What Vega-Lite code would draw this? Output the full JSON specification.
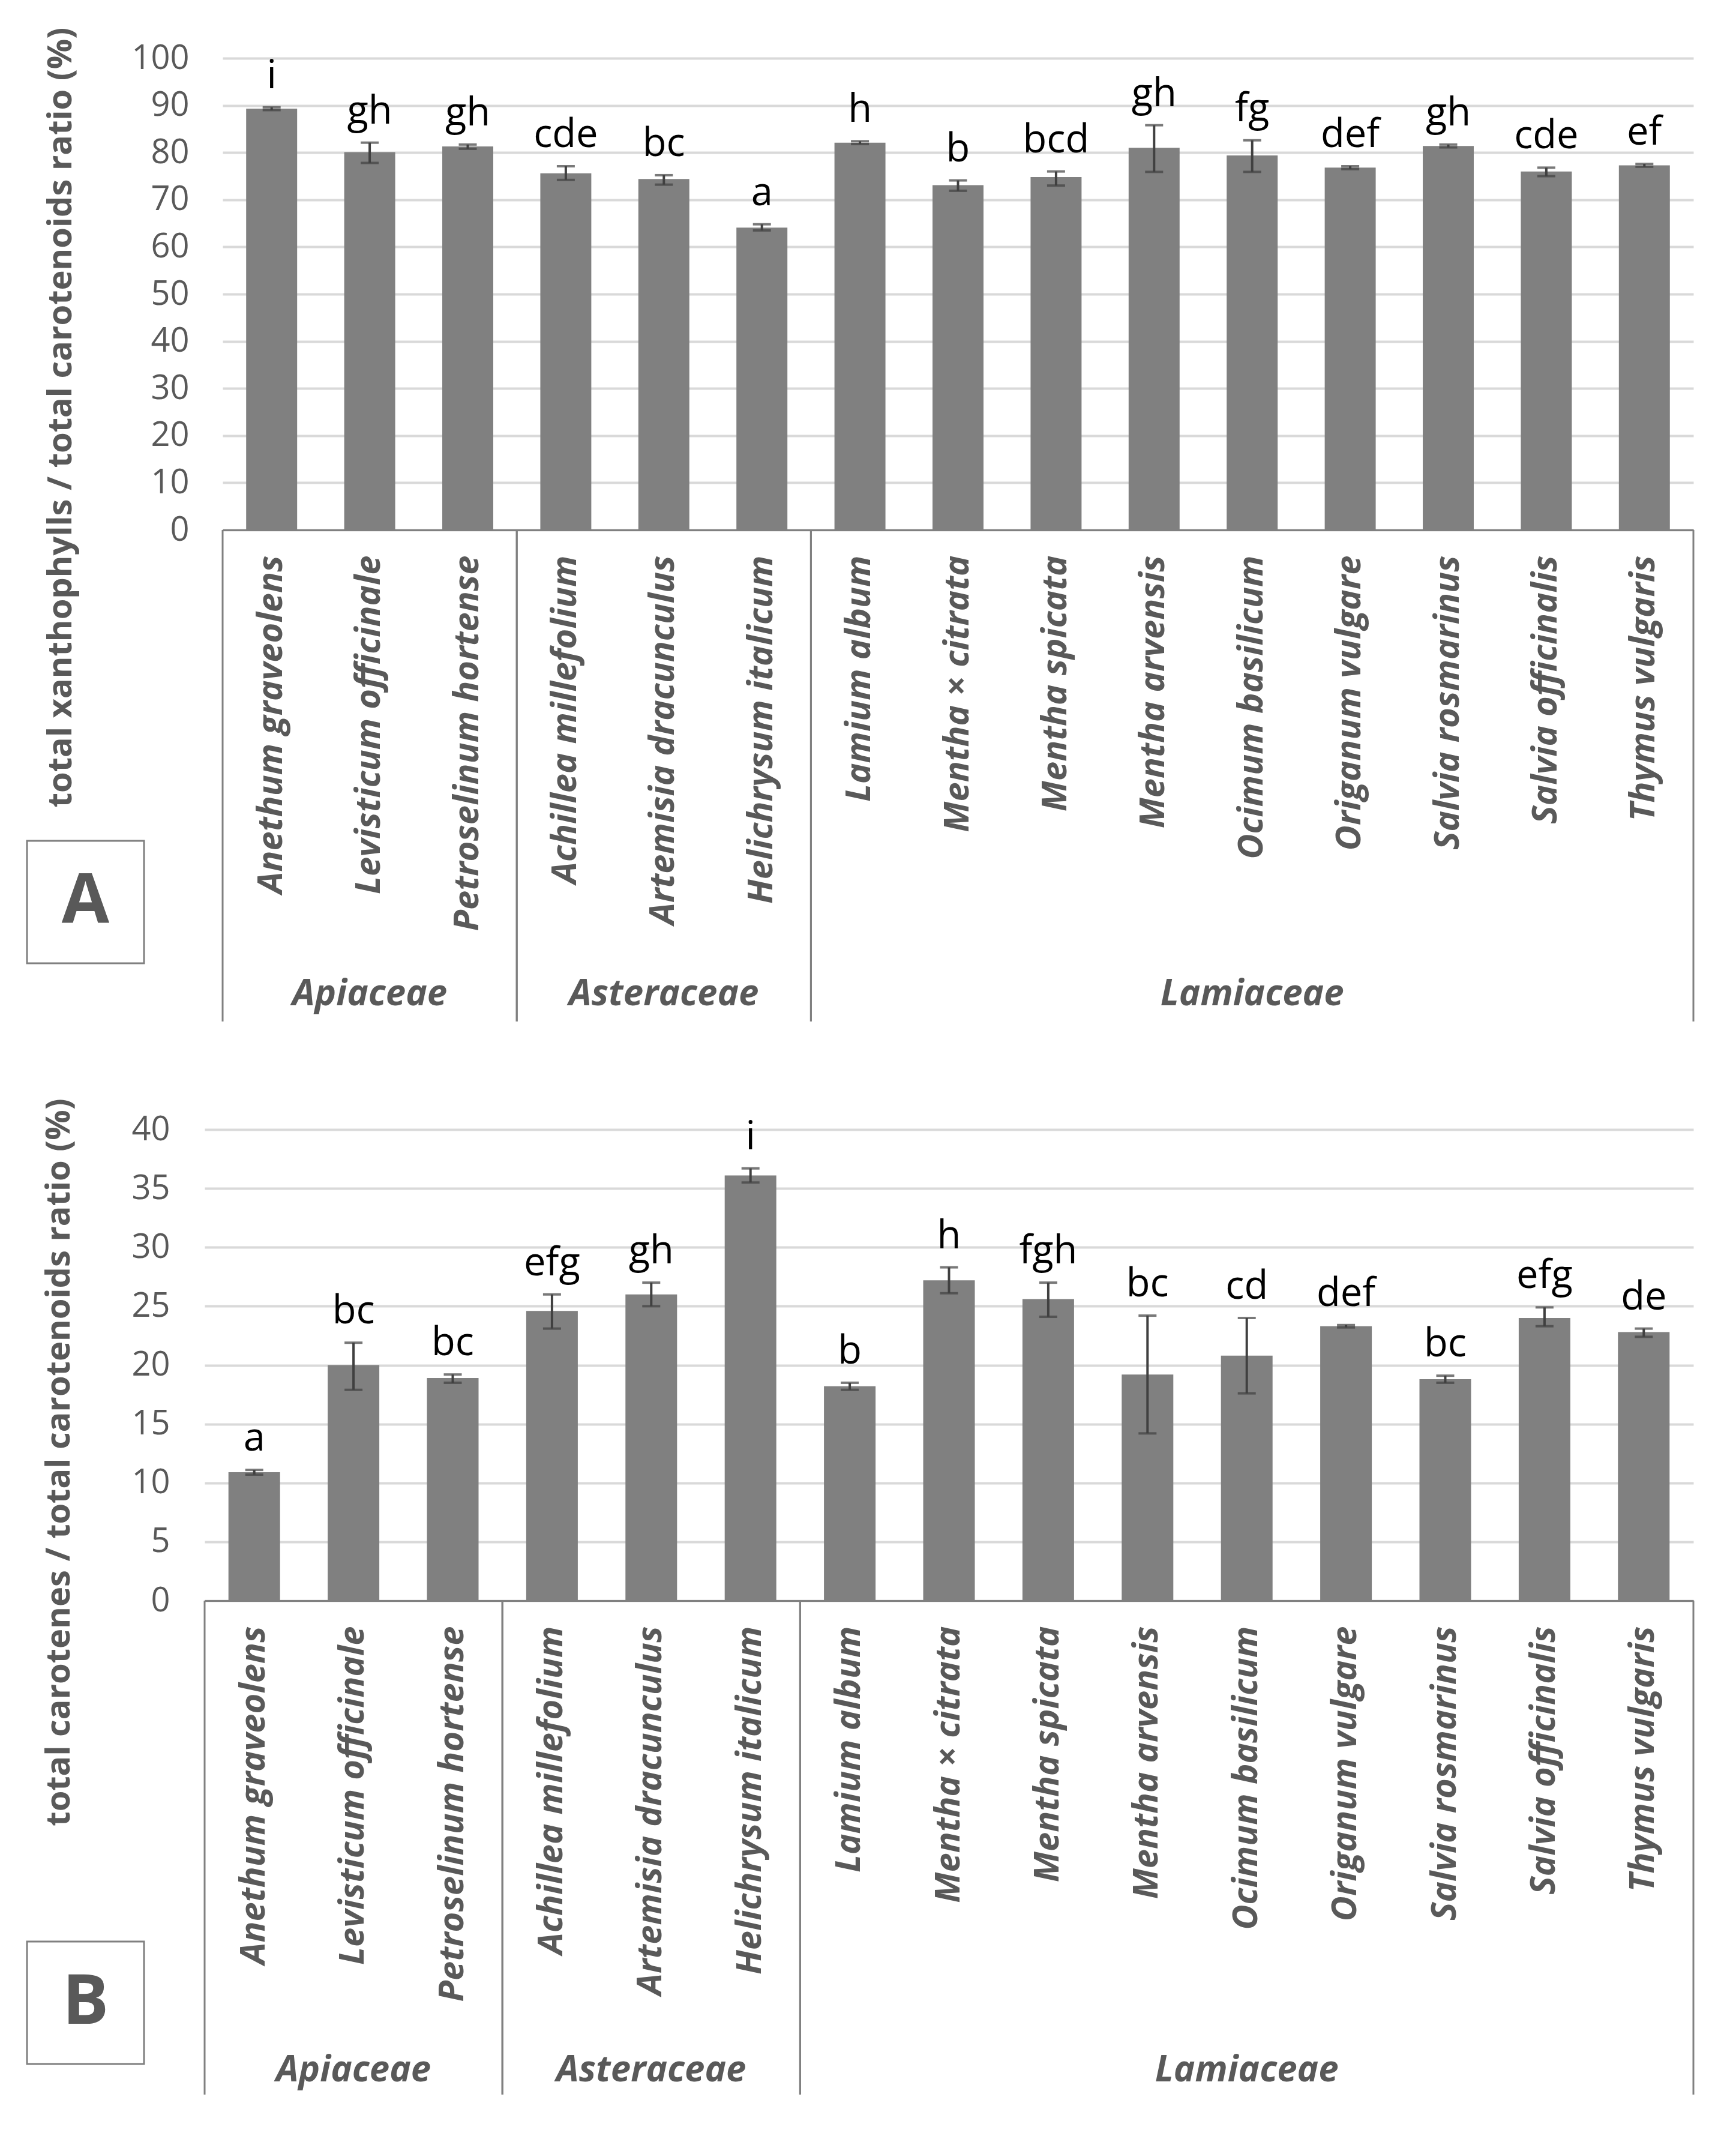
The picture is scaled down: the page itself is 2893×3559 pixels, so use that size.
{
  "$schema": "https://vega.github.io/schema/vega-lite/v6.json",
  "background": "white",
  "padding": {"left": 43, "top": 45, "right": 10, "bottom": 10},
  "config": {"view": {"stroke": null}, "font": "Open Sans"},
  "datasets": {
    "A": [
      {"family": "Apiaceae", "species": "Anethum graveolens", "mean": 89.3, "lo": 89.0, "hi": 89.6, "letter": "i"},
      {"family": "Apiaceae", "species": "Levisticum officinale", "mean": 80.1, "lo": 77.8, "hi": 82.1, "letter": "gh"},
      {"family": "Apiaceae", "species": "Petroselinum hortense", "mean": 81.3, "lo": 80.8, "hi": 81.7, "letter": "gh"},
      {"family": "Asteraceae", "species": "Achillea millefolium", "mean": 75.6, "lo": 74.2, "hi": 77.1, "letter": "cde"},
      {"family": "Asteraceae", "species": "Artemisia dracunculus", "mean": 74.4, "lo": 73.2, "hi": 75.2, "letter": "bc"},
      {"family": "Asteraceae", "species": "Helichrysum italicum", "mean": 64.1, "lo": 63.5, "hi": 64.8, "letter": "a"},
      {"family": "Lamiaceae", "species": "Lamium album", "mean": 82.1, "lo": 81.8, "hi": 82.4, "letter": "h"},
      {"family": "Lamiaceae", "species": "Mentha × citrata", "mean": 73.1, "lo": 71.9, "hi": 74.1, "letter": "b"},
      {"family": "Lamiaceae", "species": "Mentha spicata", "mean": 74.8, "lo": 73.0, "hi": 76.0, "letter": "bcd"},
      {"family": "Lamiaceae", "species": "Mentha arvensis", "mean": 81.0, "lo": 75.9, "hi": 85.8, "letter": "gh"},
      {"family": "Lamiaceae", "species": "Ocimum basilicum", "mean": 79.4, "lo": 75.9, "hi": 82.6, "letter": "fg"},
      {"family": "Lamiaceae", "species": "Origanum vulgare", "mean": 76.8, "lo": 76.5, "hi": 77.1, "letter": "def"},
      {"family": "Lamiaceae", "species": "Salvia rosmarinus", "mean": 81.4, "lo": 81.1, "hi": 81.7, "letter": "gh"},
      {"family": "Lamiaceae", "species": "Salvia officinalis", "mean": 76.0, "lo": 75.0, "hi": 76.8, "letter": "cde"},
      {"family": "Lamiaceae", "species": "Thymus vulgaris", "mean": 77.3, "lo": 77.0, "hi": 77.6, "letter": "ef"}
    ],
    "B": [
      {"family": "Apiaceae", "species": "Anethum graveolens", "mean": 10.9, "lo": 10.7, "hi": 11.1, "letter": "a"},
      {"family": "Apiaceae", "species": "Levisticum officinale", "mean": 20.0, "lo": 17.9, "hi": 21.9, "letter": "bc"},
      {"family": "Apiaceae", "species": "Petroselinum hortense", "mean": 18.9, "lo": 18.5, "hi": 19.2, "letter": "bc"},
      {"family": "Asteraceae", "species": "Achillea millefolium", "mean": 24.6, "lo": 23.1, "hi": 26.0, "letter": "efg"},
      {"family": "Asteraceae", "species": "Artemisia dracunculus", "mean": 26.0, "lo": 25.0, "hi": 27.0, "letter": "gh"},
      {"family": "Asteraceae", "species": "Helichrysum italicum", "mean": 36.1, "lo": 35.5, "hi": 36.7, "letter": "i"},
      {"family": "Lamiaceae", "species": "Lamium album", "mean": 18.2, "lo": 17.9, "hi": 18.5, "letter": "b"},
      {"family": "Lamiaceae", "species": "Mentha × citrata", "mean": 27.2, "lo": 26.1, "hi": 28.3, "letter": "h"},
      {"family": "Lamiaceae", "species": "Mentha spicata", "mean": 25.6, "lo": 24.1, "hi": 27.0, "letter": "fgh"},
      {"family": "Lamiaceae", "species": "Mentha arvensis", "mean": 19.2, "lo": 14.2, "hi": 24.2, "letter": "bc"},
      {"family": "Lamiaceae", "species": "Ocimum basilicum", "mean": 20.8, "lo": 17.6, "hi": 24.0, "letter": "cd"},
      {"family": "Lamiaceae", "species": "Origanum vulgare", "mean": 23.3, "lo": 23.2, "hi": 23.4, "letter": "def"},
      {"family": "Lamiaceae", "species": "Salvia rosmarinus", "mean": 18.8, "lo": 18.5, "hi": 19.1, "letter": "bc"},
      {"family": "Lamiaceae", "species": "Salvia officinalis", "mean": 24.0, "lo": 23.3, "hi": 24.9, "letter": "efg"},
      {"family": "Lamiaceae", "species": "Thymus vulgaris", "mean": 22.8, "lo": 22.4, "hi": 23.1, "letter": "de"}
    ],
    "groups": [
      {"family": "Apiaceae", "first": "Anethum graveolens", "mid": "Levisticum officinale", "last": "Petroselinum hortense"},
      {"family": "Asteraceae", "first": "Achillea millefolium", "mid": "Artemisia dracunculus", "last": "Helichrysum italicum"},
      {"family": "Lamiaceae", "first": "Lamium album", "mid": "Ocimum basilicum", "last": "Thymus vulgaris"}
    ],
    "panelA": [{"label": "A"}],
    "panelB": [{"label": "B"}]
  },
  "spacing": 125,
  "vconcat": [
    {
      "columns": 2,
      "spacing": {"row": 0, "column": 131},
      "bounds": "flush",
      "concat": [
        {"width": 195, "height": 786, "data": {"values": []}, "mark": "point"},
        {
          "width": 2451, "height": 786,
          "data": {"name": "A"},
          "encoding": {
            "x": {"field": "species", "type": "nominal", "sort": null,
              "scale": {"paddingInner": 0, "paddingOuter": 0},
              "axis": {"title": null, "ticks": false, "domain": true, "domainColor": "#808080", "domainWidth": 3,
                "labelAngle": 270, "labelAlign": "right", "labelBaseline": "middle", "labelPadding": 42,
                "labelFont": "Open Sans", "labelFontSize": 58, "labelFontStyle": "italic", "labelFontWeight": "bold",
                "labelColor": "#595959", "labelLimit": 2000, "labelOverlap": false, "labelBound": false}}
          },
          "layer": [
            {"mark": {"type": "bar", "width": {"band": 0.52}, "color": "#808080"},
             "encoding": {"y": {"field": "mean", "type": "quantitative",
               "scale": {"domain": [0, 100], "nice": false},
               "axis": {"values": [0, 10, 20, 30, 40, 50, 60, 70, 80, 90, 100], "domain": false, "ticks": false,
                 "grid": true, "gridColor": "#d9d9d9", "gridWidth": 4,
                 "labelFont": "Open Sans", "labelFontSize": 56, "labelColor": "#595959", "labelPadding": 56,
                 "title": "total xanthophylls / total carotenoids ratio (%)",
                 "titleFont": "Open Sans", "titleFontSize": 56, "titleFontWeight": "bold", "titleColor": "#595959",
                 "titleAngle": 270, "titleX": -270, "titleY": 598, "titleAlign": "center", "titleBaseline": "middle"}}}},
            {"mark": {"type": "rule", "color": "#404040", "strokeWidth": 4},
             "encoding": {"y": {"field": "lo", "type": "quantitative"}, "y2": {"field": "hi"}}},
            {"mark": {"type": "tick", "color": "#404040", "thickness": 4, "size": 30},
             "encoding": {"y": {"field": "lo", "type": "quantitative"}}},
            {"mark": {"type": "tick", "color": "#404040", "thickness": 4, "size": 30},
             "encoding": {"y": {"field": "hi", "type": "quantitative"}}},
            {"mark": {"type": "text", "dy": -32, "baseline": "alphabetic", "align": "center", "font": "Open Sans", "fontSize": 65, "color": "#000000"},
             "encoding": {"y": {"field": "hi", "type": "quantitative"}, "text": {"field": "letter"}}}
          ]
        },
        {"width": 195, "height": 518, "data": {"values": []}, "mark": "point"},
        {
          "width": 2451, "height": 518,
          "data": {"name": "groups"},
          "layer": [
            {"mark": {"type": "rule", "color": "#808080", "strokeWidth": 3},
             "encoding": {"x": {"field": "first", "type": "nominal", "bandPosition": 0, "axis": null,
               "scale": {"domain": ["Anethum graveolens", "Levisticum officinale", "Petroselinum hortense", "Achillea millefolium", "Artemisia dracunculus", "Helichrysum italicum", "Lamium album", "Mentha × citrata", "Mentha spicata", "Mentha arvensis", "Ocimum basilicum", "Origanum vulgare", "Salvia rosmarinus", "Salvia officinalis", "Thymus vulgaris"], "paddingInner": 0, "paddingOuter": 0}}}},
            {"mark": {"type": "rule", "color": "#808080", "strokeWidth": 3},
             "encoding": {"x": {"field": "last", "type": "nominal", "bandPosition": 1, "axis": null}}}
          ]
        },
        {"width": 195, "height": 204, "view": {"stroke": "#808080", "strokeWidth": 3},
         "data": {"name": "panelA"},
         "mark": {"type": "text", "font": "Open Sans", "fontSize": 115, "fontWeight": "bold", "color": "#595959", "align": "center", "baseline": "middle"},
         "encoding": {"text": {"field": "label"}}},
        {
          "width": 2451, "height": 301,
          "data": {"name": "groups"},
          "layer": [
            {"mark": {"type": "rule", "color": "#808080", "strokeWidth": 3},
             "encoding": {"x": {"field": "first", "type": "nominal", "bandPosition": 0, "axis": null,
               "scale": {"domain": ["Anethum graveolens", "Levisticum officinale", "Petroselinum hortense", "Achillea millefolium", "Artemisia dracunculus", "Helichrysum italicum", "Lamium album", "Mentha × citrata", "Mentha spicata", "Mentha arvensis", "Ocimum basilicum", "Origanum vulgare", "Salvia rosmarinus", "Salvia officinalis", "Thymus vulgaris"], "paddingInner": 0, "paddingOuter": 0}}}},
            {"mark": {"type": "rule", "color": "#808080", "strokeWidth": 3},
             "encoding": {"x": {"field": "last", "type": "nominal", "bandPosition": 1, "axis": null}}},
            {"mark": {"type": "text", "font": "Open Sans", "fontSize": 60, "fontStyle": "italic", "fontWeight": "bold", "color": "#595959", "align": "center", "baseline": "middle", "dy": 105},
             "encoding": {"x": {"field": "mid", "type": "nominal", "axis": null}, "text": {"field": "family"}}}
          ]
        }
      ]
    },
    {
      "columns": 2,
      "spacing": {"row": 0, "column": 101},
      "bounds": "flush",
      "concat": [
        {"width": 195, "height": 785, "data": {"values": []}, "mark": "point"},
        {
          "width": 2481, "height": 785,
          "data": {"name": "B"},
          "encoding": {
            "x": {"field": "species", "type": "nominal", "sort": null,
              "scale": {"paddingInner": 0, "paddingOuter": 0},
              "axis": {"title": null, "ticks": false, "domain": true, "domainColor": "#808080", "domainWidth": 3,
                "labelAngle": 270, "labelAlign": "right", "labelBaseline": "middle", "labelPadding": 42,
                "labelFont": "Open Sans", "labelFontSize": 58, "labelFontStyle": "italic", "labelFontWeight": "bold",
                "labelColor": "#595959", "labelLimit": 2000, "labelOverlap": false, "labelBound": false}}
          },
          "layer": [
            {"mark": {"type": "bar", "width": {"band": 0.52}, "color": "#808080"},
             "encoding": {"y": {"field": "mean", "type": "quantitative",
               "scale": {"domain": [0, 40], "nice": false},
               "axis": {"values": [0, 5, 10, 15, 20, 25, 30, 35, 40], "domain": false, "ticks": false,
                 "grid": true, "gridColor": "#d9d9d9", "gridWidth": 4,
                 "labelFont": "Open Sans", "labelFontSize": 56, "labelColor": "#595959", "labelPadding": 58,
                 "title": "total carotenes / total carotenoids ratio (%)",
                 "titleFont": "Open Sans", "titleFontSize": 56, "titleFontWeight": "bold", "titleColor": "#595959",
                 "titleAngle": 270, "titleX": -243, "titleY": 554, "titleAlign": "center", "titleBaseline": "middle"}}}},
            {"mark": {"type": "rule", "color": "#404040", "strokeWidth": 4},
             "encoding": {"y": {"field": "lo", "type": "quantitative"}, "y2": {"field": "hi"}}},
            {"mark": {"type": "tick", "color": "#404040", "thickness": 4, "size": 30},
             "encoding": {"y": {"field": "lo", "type": "quantitative"}}},
            {"mark": {"type": "tick", "color": "#404040", "thickness": 4, "size": 30},
             "encoding": {"y": {"field": "hi", "type": "quantitative"}}},
            {"mark": {"type": "text", "dy": -32, "baseline": "alphabetic", "align": "center", "font": "Open Sans", "fontSize": 65, "color": "#000000"},
             "encoding": {"y": {"field": "hi", "type": "quantitative"}, "text": {"field": "letter"}}}
          ]
        },
        {"width": 195, "height": 568, "data": {"values": []}, "mark": "point"},
        {
          "width": 2481, "height": 568,
          "data": {"name": "groups"},
          "layer": [
            {"mark": {"type": "rule", "color": "#808080", "strokeWidth": 3},
             "encoding": {"x": {"field": "first", "type": "nominal", "bandPosition": 0, "axis": null,
               "scale": {"domain": ["Anethum graveolens", "Levisticum officinale", "Petroselinum hortense", "Achillea millefolium", "Artemisia dracunculus", "Helichrysum italicum", "Lamium album", "Mentha × citrata", "Mentha spicata", "Mentha arvensis", "Ocimum basilicum", "Origanum vulgare", "Salvia rosmarinus", "Salvia officinalis", "Thymus vulgaris"], "paddingInner": 0, "paddingOuter": 0}}}},
            {"mark": {"type": "rule", "color": "#808080", "strokeWidth": 3},
             "encoding": {"x": {"field": "last", "type": "nominal", "bandPosition": 1, "axis": null}}}
          ]
        },
        {"width": 195, "height": 204, "view": {"stroke": "#808080", "strokeWidth": 3},
         "data": {"name": "panelB"},
         "mark": {"type": "text", "font": "Open Sans", "fontSize": 115, "fontWeight": "bold", "color": "#595959", "align": "center", "baseline": "middle"},
         "encoding": {"text": {"field": "label"}}},
        {
          "width": 2481, "height": 255,
          "data": {"name": "groups"},
          "layer": [
            {"mark": {"type": "rule", "color": "#808080", "strokeWidth": 3},
             "encoding": {"x": {"field": "first", "type": "nominal", "bandPosition": 0, "axis": null,
               "scale": {"domain": ["Anethum graveolens", "Levisticum officinale", "Petroselinum hortense", "Achillea millefolium", "Artemisia dracunculus", "Helichrysum italicum", "Lamium album", "Mentha × citrata", "Mentha spicata", "Mentha arvensis", "Ocimum basilicum", "Origanum vulgare", "Salvia rosmarinus", "Salvia officinalis", "Thymus vulgaris"], "paddingInner": 0, "paddingOuter": 0}}}},
            {"mark": {"type": "rule", "color": "#808080", "strokeWidth": 3},
             "encoding": {"x": {"field": "last", "type": "nominal", "bandPosition": 1, "axis": null}}},
            {"mark": {"type": "text", "font": "Open Sans", "fontSize": 60, "fontStyle": "italic", "fontWeight": "bold", "color": "#595959", "align": "center", "baseline": "middle", "dy": 87},
             "encoding": {"x": {"field": "mid", "type": "nominal", "axis": null}, "text": {"field": "family"}}}
          ]
        }
      ]
    }
  ]
}
